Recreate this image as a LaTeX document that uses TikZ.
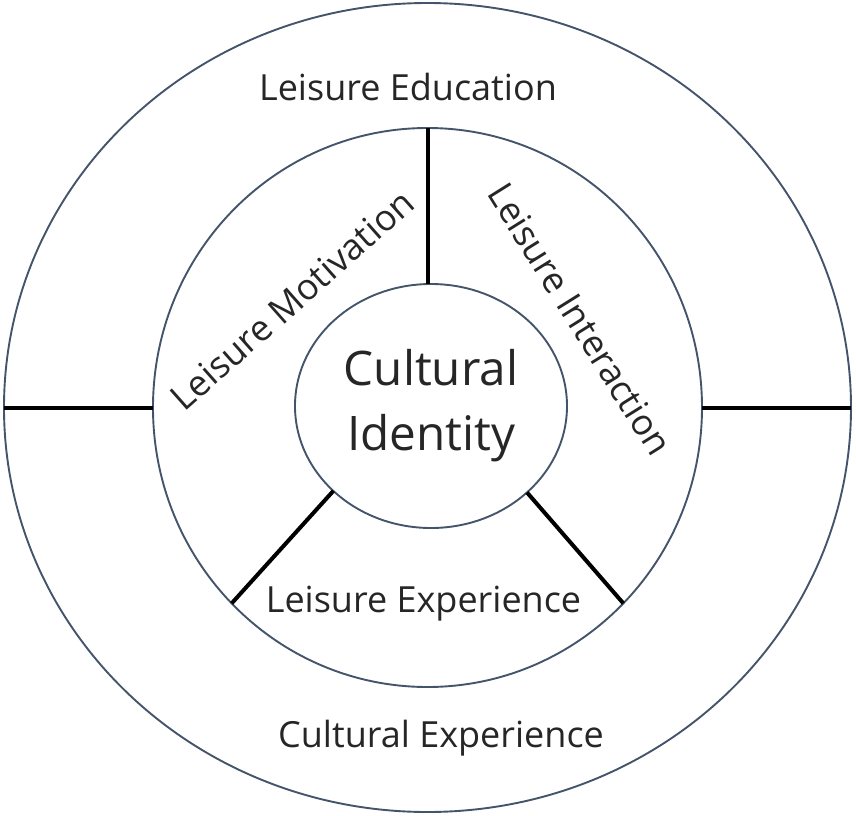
\documentclass[tikz,border=0pt]{standalone}
\usepackage{fontspec}
\setmainfont{Open Sans}
\usetikzlibrary{shapes.geometric}
\definecolor{ringblue}{HTML}{44546A}
\definecolor{inkgray}{HTML}{262626}
\begin{document}
\begin{tikzpicture}
          [x=1pt,y=1pt,
          ring/.style={shape=ellipse,draw=ringblue,line width=1.9pt,inner sep=0pt,outer sep=0pt},
          spoke/.style={draw=black,line width=4pt},
          lab/.style={text=inkgray,inner sep=0pt,font=\fontsize{36}{40}\selectfont}]

          \useasboundingbox (-428,-408) rectangle (428,407);

            \node (outer) [ring, minimum width=847, minimum height=809] at (-0.5,-0.5) {};
            \node (middle) [ring, minimum width=549, minimum height=559] at (-0.5,-0.5) {};
            \node (inner) [ring, minimum width=272, minimum height=244, text=inkgray,
                          align=center, font=\fontsize{47.6}{65}\selectfont] at (3,1) {Cultural\\Identity};

            \node (edu) [lab, anchor=base] at (-20,307) {Leisure Education};
            \node (mot) [lab, rotate=41.5] at (-136,107) {Leisure Motivation};
            \node (inter) [lab, rotate=-58] at (152,88) {Leisure Interaction};
            \node (lexp) [lab, anchor=base] at (-4.5,-205) {Leisure Experience};
            \node (cexp) [lab, anchor=base] at (13,-340) {Cultural Experience};

          \draw [spoke] (outer.180) -- (middle.180);
            \draw [spoke] (middle.0) -- (outer.0);
            \draw [spoke] (middle.north) -- (middle.north |- inner.north);
            \draw [spoke] (inner.221) -- (middle.225);
            \draw [spoke] (inner.318) -- (middle.315);

        \end{tikzpicture}
\end{document}
